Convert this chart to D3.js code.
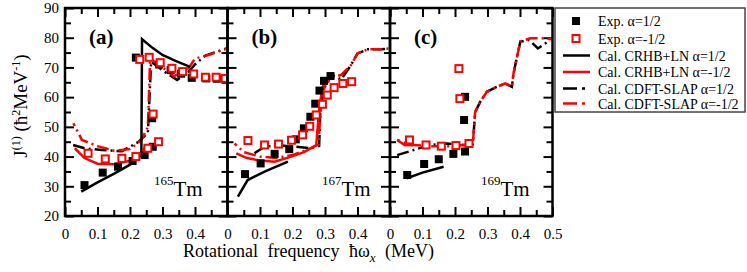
<!DOCTYPE html>
<html>
<head>
<meta charset="utf-8">
<script src="https://d3js.org/d3.v7.min.js"></script>
<style>
    body { margin: 0; background: #fff; }
    svg, svg text { font-family: "Liberation Serif", "Times New Roman", Times, "DejaVu Serif", serif; }
</style>
</head>
<body>
<div id="chart"></div>
<script>

// ---- data (x = rotational frequency in MeV, y = J(1)) ----
var panelNames = ["(a)", "(b)", "(c)"];
var isotopeMass = ["165", "167", "169"];

var yTicks = [20, 30, 40, 50, 60, 70, 80, 90];
var yMinor = [25, 35, 45, 55, 65, 75, 85];
var xTicksShort = [0, 0.1, 0.2, 0.3, 0.4];
var xTicksFull = [0, 0.1, 0.2, 0.3, 0.4, 0.5];
var xMinor = [0.05, 0.15, 0.25, 0.35, 0.45];

var legendLabels = ["Exp. \u03b1=1/2", "Exp. \u03b1=-1/2", "Cal. CRHB+LN \u03b1=1/2",
    "Cal. CRHB+LN \u03b1=-1/2", "Cal. CDFT-SLAP \u03b1=1/2", "Cal. CDFT-SLAP \u03b1=-1/2"];

// 165Tm
var expA_p = [[0.06,30.4],[0.116,34.6],[0.163,36.6],[0.208,38.5],[0.245,40.5],[0.27,43.3],[0.268,52.9],
    [0.218,73.3],[0.29,71],[0.325,69.1],[0.357,67.9],[0.39,66.5],[0.435,66.3],[0.467,66.2],[0.497,66]];
var expA_m = [[0.071,41.1],[0.124,39.2],[0.175,39.4],[0.218,40.0],[0.255,42.8],[0.288,45.0],[0.271,54.3],
    [0.23,72.7],[0.259,73.4],[0.293,71.6],[0.329,69.7],[0.362,68.6],[0.396,67.8],[0.432,66.7],[0.465,66.7],[0.493,66.3]];
var crhbA_p = [[0.05,28.2],[0.1,31.3],[0.15,34.2],[0.2,37.3],[0.235,40.5],[0.237,79.5],[0.27,76.5],[0.3,74.2],[0.34,72.2],[0.385,70.2]];
var crhbA_m = [[0.03,42.8],[0.06,39.5],[0.1,37.6],[0.15,37.4],[0.2,38.6],[0.235,41],[0.25,44]];
var cdftA_p = [[0.025,43.9],[0.06,42.8],[0.114,42.2],[0.175,41.8],[0.227,45],[0.255,48],[0.265,72],[0.3,69],
    [0.345,65.8],[0.38,68.5],[0.4,71],[0.432,74],[0.5,76.5]];
var cdftA_m = [[0.026,51.2],[0.052,45.6],[0.1,43.5],[0.15,42],[0.2,42.5],[0.235,45.5],[0.255,50],[0.262,73],[0.3,70],
    [0.335,67],[0.38,69.7],[0.4,73],[0.442,74.2],[0.5,76.4]];

// 167Tm
var expB_p = [[0.054,34.1],[0.102,37.7],[0.145,40.9],[0.19,42.5],[0.21,45.8],[0.235,49.5],[0.255,53.4],[0.27,57.8],
    [0.283,62.2],[0.297,65.5],[0.317,67.1]];
var expB_m = [[0.063,45.4],[0.114,43.9],[0.157,44.2],[0.197,45.5],[0.231,47.3],[0.253,50.2],[0.273,54],[0.292,57.6],
    [0.307,60.7],[0.328,63.2],[0.355,64.6],[0.382,65.2]];
var crhbB_p = [[0.032,26.5],[0.062,32.1],[0.114,34.9],[0.186,38.3]];
var crhbB_m = [[0.027,41.1],[0.06,39.5],[0.093,38.8],[0.145,38.3],[0.196,40],[0.237,41.6],[0.273,43.9],[0.283,57],
    [0.293,63.5],[0.304,66.3]];
var cdftB_p = [[0.083,41.1],[0.114,43.3],[0.16,43.8],[0.21,43.3],[0.256,42.8],[0.282,43.6],[0.286,57],[0.3,63.5],
    [0.32,67.5],[0.35,66],[0.38,70.8],[0.4,74.7],[0.432,76.1],[0.473,76.1],[0.5,76.4]];
var cdftB_m = [[0.022,44.4],[0.05,41.5],[0.1,40],[0.15,39.5],[0.2,40.5],[0.25,42.5],[0.28,44],[0.288,58],[0.3,64],
    [0.32,66.5],[0.35,67.5],[0.38,70.8],[0.4,74.7],[0.432,76.1],[0.473,76.1],[0.5,76.4]];

// 169Tm
var expC_p = [[0.053,33.8],[0.105,37.5],[0.15,39.1],[0.195,40.9],[0.231,41.7],[0.228,52.3],[0.231,60.1]];
var expC_m = [[0.06,45.6],[0.111,43.9],[0.158,43.5],[0.203,43.7],[0.243,44.4],[0.212,69.6],[0.215,59.5]];
var crhbC_p = [[0.052,32.7],[0.1,34.6],[0.165,36.6]];
var crhbC_m = [[0.022,45.6],[0.045,43.9],[0.07,43.8]];
var cdftC_p = [[0.022,40.5],[0.073,42.2],[0.124,43.9],[0.175,44.4],[0.227,43.9],[0.255,44.2],[0.262,55],[0.278,58.5],
    [0.298,61.8],[0.329,63.5],[0.355,64.6],[0.375,63.5],[0.38,68],[0.401,78.7],[0.428,79.2],[0.455,76.4],[0.49,79]];
var cdftC_m = [[0.022,45.6],[0.06,44],[0.12,43.5],[0.18,43.5],[0.24,44],[0.255,44.5],[0.262,55],[0.278,58.5],
    [0.298,61.8],[0.329,63.5],[0.355,64.6],[0.375,63.5],[0.38,68],[0.401,78.7],[0.432,79.8],[0.468,79.8],[0.5,79.5]];

var panels = [
    {expP: expA_p, expM: expA_m, crhbP: crhbA_p, crhbM: crhbA_m, cdftP: cdftA_p, cdftM: cdftA_m},
    {expP: expB_p, expM: expB_m, crhbP: crhbB_p, crhbM: crhbB_m, cdftP: cdftB_p, cdftM: cdftB_m},
    {expP: expC_p, expM: expC_m, crhbP: crhbC_p, crhbM: crhbC_m, cdftP: cdftC_p, cdftM: cdftC_m}
];

var RED = "#ff0000";
var DASH = "12,4,2,4";
var SERIF = "'Liberation Serif', 'Times New Roman', Times, 'DejaVu Serif', serif";

var svg = d3.select("#chart").append("svg")
    .attr("width", 747)
    .attr("height", 272)
    .attr("font-family", SERIF);

var plotTop = 8, plotBottom = 216, left0 = 65, pw = 162.5;

var y = d3.scaleLinear().domain([20, 90]).range([plotBottom, plotTop]);

var fmt = function(d) { return d === 0 ? "0" : d.toFixed(1); };
var isoX = [154, 322, 481];

panels.forEach(function(p, i) {
    var x0 = left0 + i * pw;
    var x = d3.scaleLinear().domain([0, 0.5]).range([x0, x0 + pw]);
    var g = svg.append("g");

    var clipId = "clip" + i;
    svg.append("clipPath").attr("id", clipId)
        .append("rect").attr("x", x0).attr("y", plotTop).attr("width", pw).attr("height", plotBottom - plotTop);

    //axes: major + minor ticks, all pointing inward
    var xt = i == 2 ? xTicksFull : xTicksShort;
    g.append("g").attr("transform", "translate(0," + plotBottom + ")")
        .call(d3.axisBottom(x).tickValues(xt).tickSize(-9).tickPadding(12).tickFormat(fmt))
        .call(styleAxis);
    g.append("g").attr("transform", "translate(0," + plotBottom + ")")
        .call(d3.axisBottom(x).tickValues(xMinor).tickSize(-6).tickFormat(""))
        .call(styleAxis);
    g.append("g").attr("transform", "translate(0," + plotTop + ")")
        .call(d3.axisTop(x).tickValues(xTicksFull).tickSize(-9).tickFormat(""))
        .call(styleAxis);
    g.append("g").attr("transform", "translate(0," + plotTop + ")")
        .call(d3.axisTop(x).tickValues(xMinor).tickSize(-6).tickFormat(""))
        .call(styleAxis);
    g.append("g").attr("transform", "translate(" + x0 + ",0)")
        .call(d3.axisLeft(y).tickValues(yTicks).tickSize(-9).tickPadding(6).tickFormat(i == 0 ? d3.format("d") : ""))
        .call(styleAxis);
    g.append("g").attr("transform", "translate(" + x0 + ",0)")
        .call(d3.axisLeft(y).tickValues(yMinor).tickSize(-6).tickFormat(""))
        .call(styleAxis);
    g.append("g").attr("transform", "translate(" + (x0 + pw) + ",0)")
        .call(d3.axisRight(y).tickValues(yTicks).tickSize(-9).tickFormat(""))
        .call(styleAxis);
    g.append("g").attr("transform", "translate(" + (x0 + pw) + ",0)")
        .call(d3.axisRight(y).tickValues(yMinor).tickSize(-6).tickFormat(""))
        .call(styleAxis);

    var line = d3.line().x(function(d) { return x(d[0]); }).y(function(d) { return y(d[1]); });
    var lg = svg.append("g").attr("clip-path", "url(#" + clipId + ")");

    lg.append("path").datum(p.cdftP).attr("d", line)
        .attr("fill", "none").attr("stroke", "black").attr("stroke-width", 2.5)
        .attr("stroke-dasharray", DASH);
    lg.append("path").datum(p.cdftM).attr("d", line)
        .attr("fill", "none").attr("stroke", RED).attr("stroke-width", 2.5)
        .attr("stroke-dasharray", DASH).attr("stroke-dashoffset", 9);
    lg.append("path").datum(p.crhbP).attr("d", line)
        .attr("fill", "none").attr("stroke", "black").attr("stroke-width", 2.5);
    lg.append("path").datum(p.crhbM).attr("d", line)
        .attr("fill", "none").attr("stroke", RED).attr("stroke-width", 2.5);

    //experimental points
    lg.selectAll(".bsq").data(p.expP).enter().append("rect")
        .attr("x", function(d) { return x(d[0]) - 4; })
        .attr("y", function(d) { return y(d[1]) - 4; })
        .attr("width", 8).attr("height", 8)
        .attr("fill", "black");
    lg.selectAll(".rsq").data(p.expM).enter().append("rect")
        .attr("x", function(d) { return x(d[0]) - 3.5; })
        .attr("y", function(d) { return y(d[1]) - 3.5; })
        .attr("width", 7).attr("height", 7)
        .attr("fill", "white").attr("stroke", RED).attr("stroke-width", 2);

    //frame
    svg.append("rect").attr("x", x0).attr("y", plotTop).attr("width", pw).attr("height", plotBottom - plotTop)
        .attr("fill", "none").attr("stroke", "black").attr("stroke-width", 2.5);

    svg.append("text").attr("x", x0 + 24).attr("y", 44)
        .style("font-size", "21px").style("font-weight", "bold")
        .text(panelNames[i]);

    var iso = svg.append("text").attr("x", isoX[i]).attr("y", 196).style("font-size", "21px");
    iso.append("tspan").attr("dy", -11).style("font-size", "13px").text(isotopeMass[i]);
    iso.append("tspan").attr("dy", 11).text("Tm");
});

function styleAxis(sel) {
    sel.attr("font-family", SERIF);
    sel.select(".domain").remove();
    sel.selectAll(".tick line").attr("stroke", "black").attr("stroke-width", 2);
    sel.selectAll("text").attr("font-size", "15px").attr("fill", "black");
}

//axis titles
var xl = svg.append("text").attr("x", 308.5).attr("y", 257)
    .attr("text-anchor", "middle").style("font-size", "18px").style("word-spacing", "5px");
xl.append("tspan").text("Rotational frequency \u0127\u03c9");
xl.append("tspan").attr("dy", 5).style("font-size", "13px").style("font-style", "italic").text("x");
xl.append("tspan").attr("dy", -5).text(" (MeV)");

var yl = svg.append("text").attr("transform", "translate(27,106) rotate(-90)")
    .attr("text-anchor", "middle").style("font-size", "19px");
yl.append("tspan").text("J");
yl.append("tspan").attr("dy", -7).style("font-size", "12px").text("(1)");
yl.append("tspan").attr("dy", 7).text(" (\u0127");
yl.append("tspan").attr("dy", -7).style("font-size", "12px").text("2");
yl.append("tspan").attr("dy", 7).text("MeV");
yl.append("tspan").attr("dy", -7).style("font-size", "12px").text("-1");
yl.append("tspan").attr("dy", 7).text(")");

//legend
var legendY = [21, 38.5, 55.5, 72, 88.5, 103.5];
var lgd = svg.append("g");
lgd.append("rect").attr("x", 555).attr("y", 8).attr("width", 190).attr("height", 104)
    .attr("fill", "white").attr("stroke", "#444").attr("stroke-width", 1.5);
lgd.append("rect").attr("x", 572).attr("y", legendY[0] - 4).attr("width", 8).attr("height", 8).attr("fill", "black");
lgd.append("rect").attr("x", 572.5).attr("y", legendY[1] - 3.5).attr("width", 7).attr("height", 7)
    .attr("fill", "white").attr("stroke", RED).attr("stroke-width", 2);
[["black", null], [RED, null], ["black", "14,5,3,5"], [RED, "14,5,3,5"]].forEach(function(s, k) {
    lgd.append("line").attr("x1", 563).attr("x2", 590)
        .attr("y1", legendY[k + 2]).attr("y2", legendY[k + 2])
        .attr("stroke", s[0]).attr("stroke-width", 2.5)
        .attr("stroke-dasharray", s[1]);
});
lgd.selectAll(".ltxt").data(legendLabels).enter().append("text")
    .attr("x", 598)
    .attr("y", function(d, k) { return legendY[k] + 5; })
    .style("font-size", "14px")
    .text(function(d) { return d; });

</script>
</body>
</html>
